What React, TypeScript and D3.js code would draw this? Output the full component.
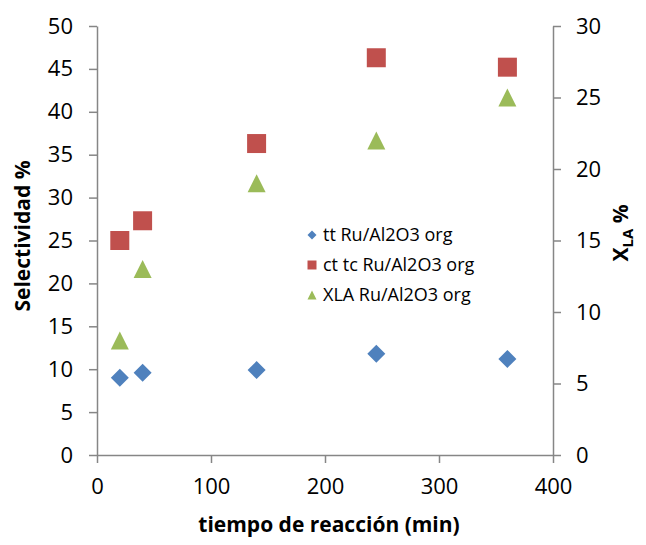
import React, { useRef, useEffect } from 'react';
import * as d3 from 'd3';

// reaction time (min)
const times = [20, 40, 140, 245, 360];
// selectivity % (left axis)
const ttValues = [9.0, 9.6, 9.9, 11.8, 11.2];
const ctValues = [25.0, 27.3, 36.3, 46.3, 45.2];
// conversion X_LA % (right axis)
const xlaValues = [8, 13, 19, 22, 25];

const xTicks = [0, 100, 200, 300, 400];
const leftTicks = [0, 5, 10, 15, 20, 25, 30, 35, 40, 45, 50];
const rightTicks = [0, 5, 10, 15, 20, 25, 30];

const W = 646;
const H = 545;
const margin = { top: 26, right: 93, bottom: 90, left: 97 };
const font = "'Open Sans', sans-serif";
const axisColor = '#868686';

const colors = { tt: '#4F81BD', ct: '#C0504D', xla: '#9BBB59' };

const diamond = (s: number) => {
  const p = d3.path();
  p.moveTo(0, -s);
  p.lineTo(s, 0);
  p.lineTo(0, s);
  p.lineTo(-s, 0);
  p.closePath();
  return p.toString();
};
const square = (s: number) => {
  const p = d3.path();
  p.rect(-s, -s, 2 * s, 2 * s);
  return p.toString();
};
const triangle = (s: number) => {
  const p = d3.path();
  p.moveTo(0, -s);
  p.lineTo(s, s);
  p.lineTo(-s, s);
  p.closePath();
  return p.toString();
};

const App: React.FC = () => {
  const svgRef = useRef<SVGSVGElement>(null);

  useEffect(() => {
    const svg = d3.select(svgRef.current as SVGSVGElement);
    svg.selectAll('*').remove();

    const x0 = margin.left;
    const x1 = W - margin.right;
    const y0 = H - margin.bottom;
    const y1 = margin.top;

    const x = d3.scaleLinear().domain([0, 400]).range([x0, x1]);
    const yL = d3.scaleLinear().domain([0, 50]).range([y0, y1]);
    const yR = d3.scaleLinear().domain([0, 30]).range([y0, y1]);

    const styleAxis = (g: any) => {
      g.select('.domain').attr('stroke', axisColor).attr('stroke-width', 1.5);
      g.selectAll('.tick line').attr('stroke', axisColor).attr('stroke-width', 1.5);
      g.selectAll('.tick text')
        .attr('fill', '#000')
        .style('font-family', font)
        .style('font-size', '22px');
    };

    // x axis
    svg
      .append('g')
      .attr('transform', `translate(0,${y0})`)
      .call(d3.axisBottom(x).tickValues(xTicks).tickSize(8).tickSizeOuter(0).tickPadding(15))
      .call(styleAxis);

    // left axis
    svg
      .append('g')
      .attr('transform', `translate(${x0},0)`)
      .call(d3.axisLeft(yL).tickValues(leftTicks).tickSize(8).tickSizeOuter(0).tickPadding(16))
      .call(styleAxis);

    // right axis
    svg
      .append('g')
      .attr('transform', `translate(${x1},0)`)
      .call(d3.axisRight(yR).tickValues(rightTicks).tickSize(8).tickSizeOuter(0).tickPadding(15))
      .call(styleAxis);

    const plot = svg.append('g');

    plot
      .selectAll('.tt')
      .data(times)
      .join('path')
      .attr('class', 'tt')
      .attr('d', diamond(9))
      .attr('fill', colors.tt)
      .attr('transform', (d, i) => `translate(${x(d)},${yL(ttValues[i])})`);

    plot
      .selectAll('.ct')
      .data(times)
      .join('path')
      .attr('class', 'ct')
      .attr('d', square(9.5))
      .attr('fill', colors.ct)
      .attr('transform', (d, i) => `translate(${x(d)},${yL(ctValues[i])})`);

    plot
      .selectAll('.xla')
      .data(times)
      .join('path')
      .attr('class', 'xla')
      .attr('d', triangle(9))
      .attr('fill', colors.xla)
      .attr('transform', (d, i) => `translate(${x(d)},${yR(xlaValues[i])})`);

    // legend
    const legend = [
      { label: 'tt Ru/Al2O3 org', shape: diamond(4.5), color: colors.tt },
      { label: 'ct tc Ru/Al2O3 org', shape: square(4.5), color: colors.ct },
      { label: 'XLA Ru/Al2O3 org', shape: triangle(4.5), color: colors.xla },
    ];
    const lg = svg.append('g').attr('transform', 'translate(312,235)');
    legend.forEach((e, i) => {
      const row = lg.append('g').attr('transform', `translate(0,${i * 30})`);
      row.append('path').attr('d', e.shape).attr('fill', e.color);
      row
        .append('text')
        .attr('x', 11)
        .attr('dy', '0.35em')
        .style('font-family', font)
        .style('font-size', '18px')
        .text(e.label);
    });

    // axis titles
    svg
      .append('text')
      .attr('x', (x0 + x1) / 2 + 4)
      .attr('y', 532)
      .attr('text-anchor', 'middle')
      .style('font-family', font)
      .style('font-size', '21px')
      .style('font-weight', 'bold')
      .text('tiempo de reacción (min)');

    svg
      .append('text')
      .attr('transform', `translate(30,236) rotate(-90)`)
      .attr('text-anchor', 'middle')
      .style('font-family', font)
      .style('font-size', '21px')
      .style('font-weight', 'bold')
      .text('Selectividad %');

    const rt = svg
      .append('text')
      .attr('transform', `translate(628,233) rotate(-90)`)
      .attr('text-anchor', 'middle')
      .style('font-family', font)
      .style('font-size', '21px')
      .style('font-weight', 'bold');
    rt.append('tspan').text('X');
    rt.append('tspan').attr('dy', 5).style('font-size', '15px').text('LA');
    rt.append('tspan').attr('dy', -5).text(' %');
  }, []);

  return (
    <svg
      ref={svgRef}
      width={W}
      height={H}
      style={{ position: 'absolute', left: 0, top: 0, background: '#fff' }}
    />
  );
};

export default App;
